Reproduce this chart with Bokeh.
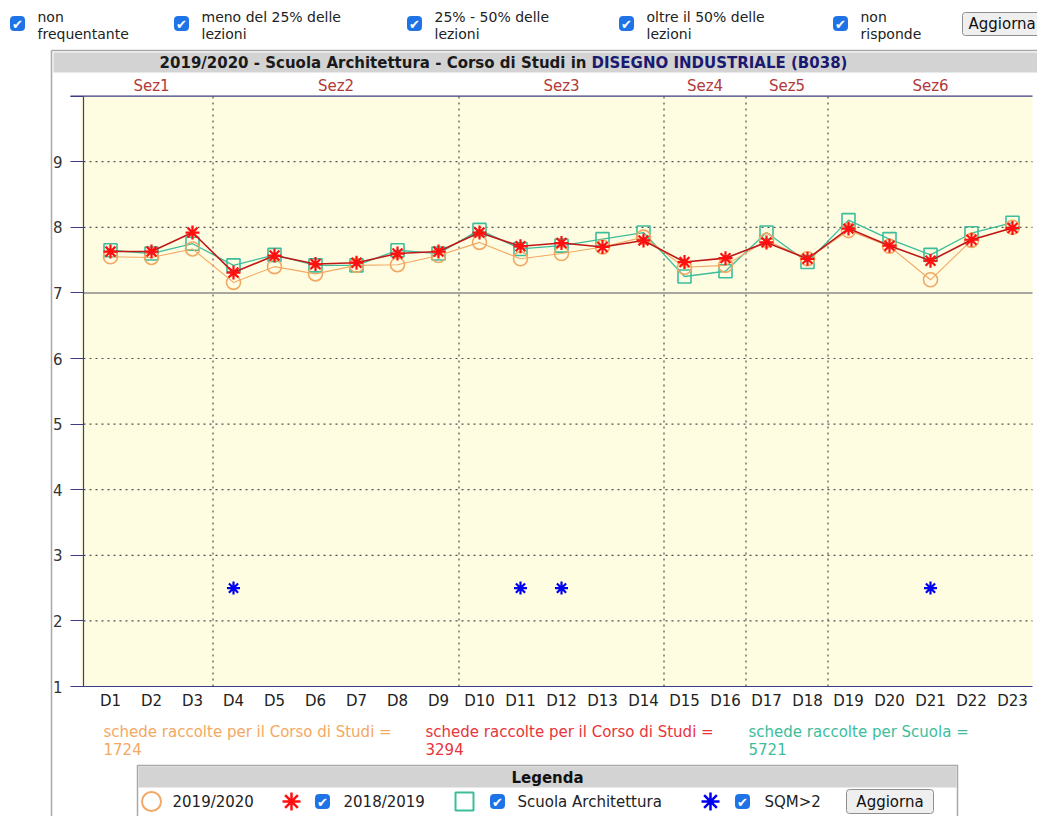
from bokeh.plotting import figure
from bokeh.models import Range1d, LinearAxis, FixedTicker
from bokeh.core.properties import value
from bokeh.embed import file_html
from bokeh.resources import INLINE

# ---------------- data ----------------
domande = [f"D{i}" for i in range(1, 24)]
anno_2019_2020 = [7.55, 7.54, 7.67, 7.16, 7.40, 7.29, 7.42, 7.43, 7.57, 7.77, 7.52, 7.60,
                  7.70, 7.85, 7.39, 7.42, 7.80, 7.52, 7.95, 7.71, 7.20, 7.80, 8.00]
anno_2018_2019 = [7.63, 7.63, 7.92, 7.31, 7.57, 7.44, 7.46, 7.60, 7.63, 7.92, 7.71, 7.76,
                  7.70, 7.80, 7.47, 7.53, 7.77, 7.52, 7.98, 7.72, 7.49, 7.81, 7.99]
scuola_architettura = [7.65, 7.60, 7.75, 7.42, 7.58, 7.42, 7.42, 7.65, 7.60, 7.96, 7.67, 7.72,
                       7.82, 7.92, 7.25, 7.33, 7.92, 7.47, 8.11, 7.82, 7.58, 7.91, 8.07]
sqm_domande = ["D4", "D11", "D12", "D21"]
sqm_valore = 2.5
sezioni = ["Sez1", "Sez2", "Sez3", "Sez4", "Sez5", "Sez6"]
sez_prima = [1, 4, 10, 15, 17, 19]
sez_ultima = [3, 9, 14, 16, 18, 23]
y_ticks = [1, 2, 3, 4, 5, 6, 7, 8, 9, 10]
y_min, y_max = 1, 10
linea_riferimento = 7
schede = [1724, 3294, 5721]
schede_testi = ["schede raccolte per il Corso di Studi =",
                "schede raccolte per il Corso di Studi =",
                "schede raccolte per Scuola ="]
filtri = [("non", "frequentante"), ("meno del 25% delle", "lezioni"),
          ("25% - 50% delle", "lezioni"), ("oltre il 50% delle", "lezioni"),
          ("non", "risponde")]
titolo_a = "2019/2020 - Scuola Architettura - Corso di Studi in"
titolo_b = "DISEGNO INDUSTRIALE (B038)"

# ---------------- styling / layout ----------------
W, H = 1037, 816
OX, OY = 0, 0
PX_D1, PX_STEP = 110, 41.0      # screen x of D1, px per question
PY_1, PY_UNIT = 686, 65.6       # screen y of value 1, px per unit


def dx(X):
    return 1 + (X - PX_D1) / PX_STEP


def dy(Y):
    return 1 + (PY_1 - Y) / PY_UNIT


FONT = value("DejaVu Sans")
FS = "15px"
ORANGE = "#F2A863"
RED = "#FF1010"
RED_LINE = "#C01818"
TEAL = "#3DBD9C"
BLUE = "#0000F0"
AXIS = "#3C3C84"
GRID = "#505050"
SEZ = "#B03A3A"
CHK = "#1E73E6"

x_lo, x_hi = dx(83), dx(1032)
xs = list(range(1, len(domande) + 1))

p = figure(width=W, height=H, x_range=Range1d(dx(OX), dx(OX + W)),
           y_range=Range1d(dy(OY + H), dy(OY)), x_axis_location=None,
           y_axis_location=None, toolbar_location=None, output_backend="svg",
           min_border=0, outline_line_color=None, background_fill_color="white",
           border_fill_color="white")
p.grid.visible = False

# outer box and title bar
p.segment(x0=[dx(51), dx(51)], y0=[dy(50), dy(50)], x1=[dx(51), dx(1045)],
          y1=[dy(830), dy(50)], line_color="#A8A8A8", line_width=1.5)
p.quad(left=[dx(53)], right=[dx(1045)], top=[dy(52)], bottom=[dy(72)],
       fill_color="#D3D3D3", line_color=None)
p.text(x=[dx(586)], y=[dy(62)], text=[titolo_a], text_font=FONT,
       text_font_size=FS, text_font_style="bold", text_color="#1A1A1A",
       text_align="right", text_baseline="middle")
p.text(x=[dx(591)], y=[dy(62)], text=[titolo_b], text_font=FONT,
       text_font_size=FS, text_font_style="bold", text_color="#1A1A70",
       text_align="left", text_baseline="middle")

# plot background
p.quad(left=[dx(80)], right=[x_hi], top=[y_max], bottom=[y_min],
       fill_color="#FFFDE1", line_color=None)

# horizontal grid
grid_y = [t for t in y_ticks if y_min < t < y_max and t != linea_riferimento]
p.segment(x0=[x_lo] * len(grid_y), y0=grid_y, x1=[x_hi] * len(grid_y), y1=grid_y,
          line_color=GRID, line_width=1.2, line_dash="2 4")
p.segment(x0=[x_lo], y0=[linea_riferimento], x1=[x_hi], y1=[linea_riferimento],
          line_color="#8A8A8A", line_width=1.5)
# section separators
sep = [u + 0.5 for u in sez_ultima[:-1]]
p.segment(x0=sep, y0=[y_min] * len(sep), x1=sep, y1=[y_max] * len(sep),
          line_color=GRID, line_width=1.2, line_dash="2 4")
# top frame line
p.segment(x0=[dx(70)], y0=[y_max], x1=[x_hi], y1=[y_max], line_color=AXIS, line_width=1.2)

# section labels
p.text(x=[(a + b) / 2 for a, b in zip(sez_prima, sez_ultima)], y=[dy(85)] * len(sezioni),
       text=sezioni, text_font=FONT, text_font_size=FS, text_color=SEZ,
       text_align="center", text_baseline="middle")

# series
p.line(xs, scuola_architettura, line_color=TEAL, line_width=1.3)
p.scatter(xs, scuola_architettura, marker="square", size=13, fill_color=None,
          line_color=TEAL, line_width=1.6)
p.line(xs, anno_2019_2020, line_color=ORANGE, line_width=1.1)
p.scatter(xs, anno_2019_2020, marker="circle", size=14, fill_color=None,
          line_color=ORANGE, line_width=1.6)
p.line(xs, anno_2018_2019, line_color=RED_LINE, line_width=1.6)
p.scatter(xs, anno_2018_2019, marker="asterisk", size=14, line_color=RED, line_width=2.2)
sqm_x = [domande.index(d) + 1 for d in sqm_domande]
p.scatter(sqm_x, [sqm_valore] * len(sqm_x), marker="asterisk", size=13,
          line_color=BLUE, line_width=2.2)

# axes
yax = LinearAxis(ticker=FixedTicker(ticks=y_ticks), fixed_location=x_lo, bounds=(y_min, y_max))
yax.axis_line_color = AXIS
yax.axis_line_width = 1.2
yax.major_tick_line_color = AXIS
yax.major_tick_line_width = 1.2
yax.major_tick_out = 13
yax.major_tick_in = 0
yax.minor_tick_out = 0
yax.minor_tick_in = 0
yax.major_label_overrides = {10: ""}
yax.major_label_text_font = "DejaVu Sans"
yax.major_label_text_font_size = FS
yax.major_label_text_color = "#333333"
yax.major_label_standoff = 8
p.add_layout(yax, "left")

xax = LinearAxis(ticker=FixedTicker(ticks=xs), fixed_location=y_min, bounds=(x_lo, x_hi))
xax.axis_line_color = AXIS
xax.axis_line_width = 1.2
xax.major_tick_out = 0
xax.major_tick_in = 0
xax.minor_tick_out = 0
xax.minor_tick_in = 0
xax.major_label_overrides = {i: d for i, d in zip(xs, domande)}
xax.major_label_text_font = "DejaVu Sans"
xax.major_label_text_font_size = FS
xax.major_label_text_color = "#222222"
xax.major_label_standoff = 5
p.add_layout(xax, "below")

# schede raccolte texts
sc_x = [103, 425, 748]
sc_col = ["#F4A862", "#E8343A", "#3DBD9C"]
for X, t, n, c in zip(sc_x, schede_testi, schede, sc_col):
    p.text(x=[dx(X), dx(X)], y=[dy(731), dy(748)], text=[t, str(n)], text_font=FONT,
           text_font_size=FS, text_color=c, text_align="left", text_baseline="middle")


def checkbox(X, Y):
    p.quad(left=[dx(X - 7)], right=[dx(X + 7)], top=[dy(Y - 7)], bottom=[dy(Y + 7)],
           fill_color=CHK, line_color=CHK, border_radius=3)
    p.text(x=[dx(X)], y=[dy(Y + 0.5)], text=["\u2714"], text_font=FONT,
           text_font_size="13px", text_color="white", text_align="center",
           text_baseline="middle")


def button(X0, X1, Y0, Y1, align="center", tx=None):
    p.quad(left=[dx(X0)], right=[dx(X1)], top=[dy(Y0)], bottom=[dy(Y1)],
           fill_color="#EFEFEF", line_color="#8F8F8F", line_width=1, border_radius=3)
    p.text(x=[dx(tx if tx is not None else (X0 + X1) / 2)], y=[dy((Y0 + Y1) / 2)],
           text=["Aggiorna"], text_font=FONT, text_font_size=FS, text_color="#111111",
           text_align=align, text_baseline="middle")


# top filter row
chk_x = [17, 181, 414, 626, 840]
for X, (l1, l2) in zip(chk_x, filtri):
    checkbox(X, 23)
    p.text(x=[dx(X + 20), dx(X + 20)], y=[dy(16), dy(33)], text=[l1, l2], text_font=FONT,
           text_font_size="14px", text_color="#222222", text_align="left",
           text_baseline="middle")
button(962, 1045, 12, 35, align="left", tx=968)

# legend box
p.quad(left=[dx(137)], right=[dx(957)], top=[dy(765)], bottom=[dy(830)],
       fill_color="white", line_color="#A8A8A8", line_width=1.5)
p.quad(left=[dx(138)], right=[dx(956)], top=[dy(766)], bottom=[dy(787)],
       fill_color="#D3D3D3", line_color=None)
p.text(x=[dx(547)], y=[dy(777)], text=["Legenda"], text_font=FONT, text_font_size=FS,
       text_font_style="bold", text_color="#111111", text_align="center",
       text_baseline="middle")
LY = 801
p.scatter([dx(151)], [dy(LY)], marker="circle", size=19, fill_color=None,
          line_color=ORANGE, line_width=2)
p.scatter([dx(291)], [dy(LY)], marker="asterisk", size=18, line_color=RED, line_width=2.5)
p.scatter([dx(464)], [dy(LY)], marker="square", size=18, fill_color=None,
          line_color=TEAL, line_width=2)
p.scatter([dx(710)], [dy(LY)], marker="asterisk", size=18, line_color=BLUE, line_width=2.5)
for X in [322, 497, 742]:
    checkbox(X, LY)
p.text(x=[dx(172), dx(343), dx(517), dx(764)], y=[dy(LY)] * 4,
       text=["2019/2020", "2018/2019", "Scuola Architettura", "SQM>2"], text_font=FONT,
       text_font_size=FS, text_color="#222222", text_align="left",
       text_baseline="middle")
button(846, 933, 789, 813)

open("out.html", "w").write(file_html(p, INLINE))
